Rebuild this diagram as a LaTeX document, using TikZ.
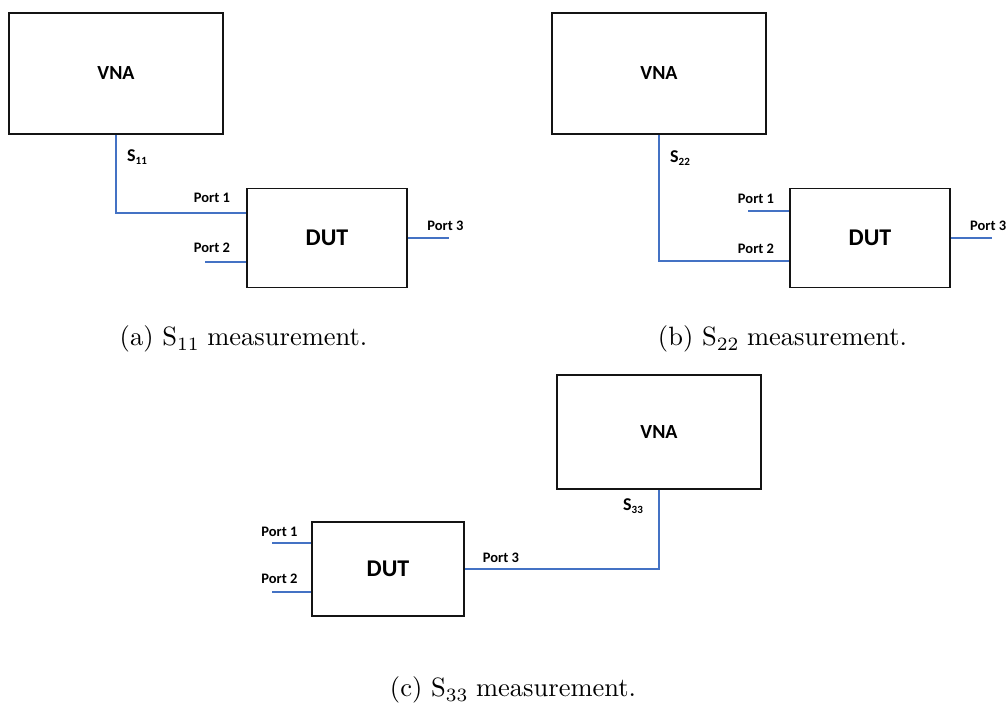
\documentclass[tikz,border=0pt]{standalone}
\usepackage{fontspec}
\newfontfamily\lblfont{Carlito}
\newfontfamily\capfont{lmroman10-regular}[Extension=.otf]
\newfontfamily\capsubfont{lmroman7-regular}[Extension=.otf]
\definecolor{wireblue}{RGB}{68,114,196}
\definecolor{edge}{RGB}{20,20,20}
\newcommand{\lblsize}[1]{\fontsize{#1}{#1}\selectfont}
\newcommand{\sparam}[1]{S\raisebox{-0.35ex}{\lblsize{11}#1}}
\newcommand{\capsparam}[1]{S\raisebox{-5pt}{\capsubfont\lblsize{18.8}#1}}

\tikzset{
  vnabox/.style={draw=edge, line width=1.8pt, inner sep=0pt,
    font=\lblfont\bfseries\lblsize{20}},
  dutbox/.style={draw=edge, line width=1.8pt, inner sep=0pt,
    font=\lblfont\bfseries\lblsize{24}},
  wire/.style={draw=wireblue, line width=1.8pt},
  portlbl/.style={font=\lblfont\bfseries\lblsize{14.5}, inner sep=0pt},
  slbl/.style={font=\lblfont\bfseries\lblsize{18}, inner sep=0pt, anchor=west},
  caption/.style={font=\capfont\lblsize{26.5}, inner sep=0pt}
}

\begin{document}
\begin{tikzpicture}[x=1pt, y=-1pt]
\useasboundingbox (0,0) rectangle (1006,704);

% ---------- (a) S11 ----------
\node[vnabox, minimum width=214pt, minimum height=121pt] (vnaA) at (116,73.5) {VNA};
\node[dutbox, minimum width=160pt, minimum height=99pt] (dutA) at (327,238) {DUT};
\coordinate (a1) at ([yshift=25pt]dutA.west);
\coordinate (a2) at ([yshift=-24pt]dutA.west);
\coordinate (a2end) at ([xshift=-41pt]a2);
\coordinate (a3end) at ([xshift=41pt]dutA.east);
\draw[wire] (vnaA.south) |- (a1);
\draw[wire] (a2end) -- (a2);
\draw[wire] (dutA.east) -- (a3end);
\node[slbl] (sA) at (127,157) {\sparam{11}};
\node[portlbl] (pA1) at (212,198) {Port 1};
\node[portlbl] (pA2) at (212,247.5) {Port 2};
\node[portlbl] (pA3) at (445.5,225.5) {Port 3};
\node[caption] (capA) at (243.5,339) {(a) \capsparam{11} measurement.};

% ---------- (b) S22 ----------
\node[vnabox, minimum width=214pt, minimum height=121pt] (vnaB) at (659,73.5) {VNA};
\node[dutbox, minimum width=160pt, minimum height=99pt] (dutB) at (870,238) {DUT};
\coordinate (b1) at ([yshift=27pt]dutB.west);
\coordinate (b2) at ([yshift=-23pt]dutB.west);
\coordinate (b1end) at ([xshift=-41pt]b1);
\coordinate (b3end) at ([xshift=41pt]dutB.east);
\draw[wire] (vnaB.south) |- (b2);
\draw[wire] (b1end) -- (b1);
\draw[wire] (dutB.east) -- (b3end);
\node[slbl] (sB) at (670,158) {\sparam{22}};
\node[portlbl] (pB1) at (756,199) {Port 1};
\node[portlbl] (pB2) at (756,248.5) {Port 2};
\node[portlbl, anchor=west] (pB3) at (970,226) {Port 3};
\node[caption] (capB) at (782.5,339) {(b) \capsparam{22} measurement.};

% ---------- (c) S33 ----------
\node[vnabox, minimum width=204pt, minimum height=114pt] (vnaC) at (659,432) {VNA};
\node[dutbox, minimum width=152pt, minimum height=94pt] (dutC) at (388,569) {DUT};
\coordinate (c1) at ([yshift=26pt]dutC.west);
\coordinate (c2) at ([yshift=-23pt]dutC.west);
\coordinate (c1end) at ([xshift=-39pt]c1);
\coordinate (c2end) at ([xshift=-39pt]c2);
\draw[wire] (vnaC.south) |- (dutC.east);
\draw[wire] (c1end) -- (c1);
\draw[wire] (c2end) -- (c2);
\node[slbl] (sC) at (623,506) {\sparam{33}};
\node[portlbl] (pC1) at (279.5,531.5) {Port 1};
\node[portlbl] (pC2) at (279.5,579) {Port 2};
\node[portlbl] (pC3) at (501,557.5) {Port 3};
\node[caption] (capC) at (513,690) {(c) \capsparam{33} measurement.};
\end{tikzpicture}
\end{document}
